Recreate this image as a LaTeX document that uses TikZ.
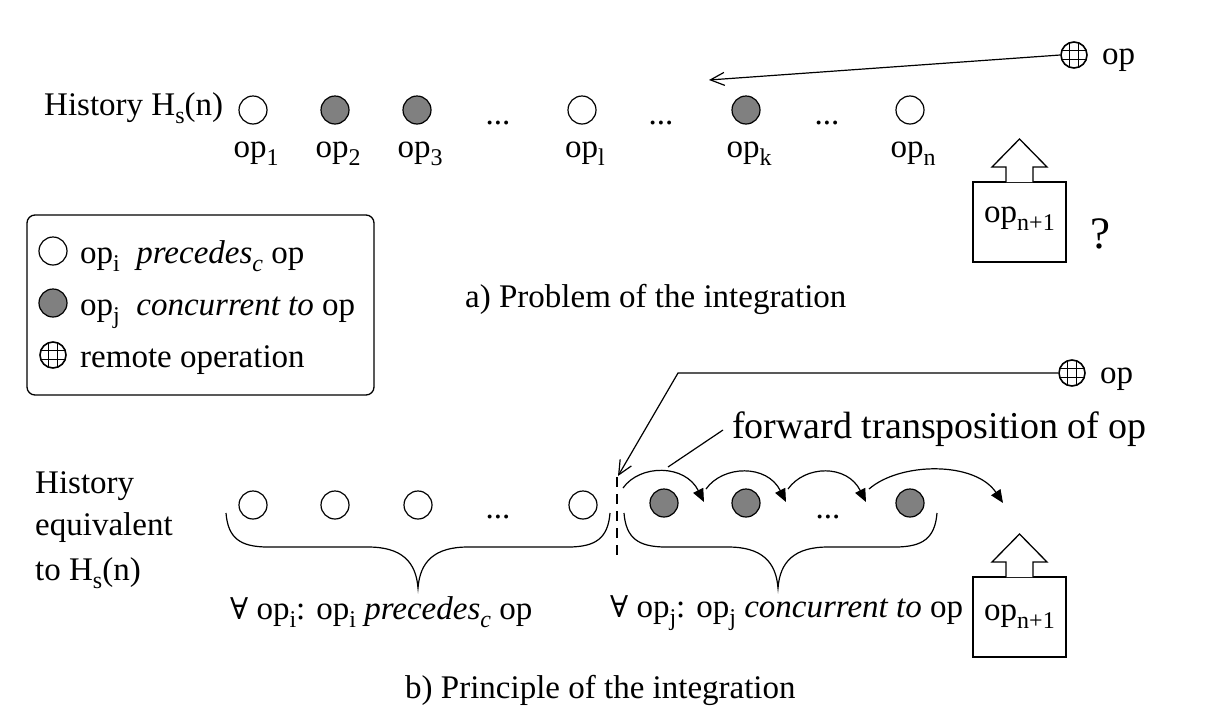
\documentclass[tikz,border=0pt]{standalone}
\usepackage{fontspec}
\setmainfont{Liberation Serif}
\newfontfamily\symf{DejaVu Serif}
\usetikzlibrary{arrows.meta}
\definecolor{opgrey}{RGB}{128,128,128}
\newcommand{\sbs}[1]{\raisebox{-8pt}{\fontsize{24}{24}\selectfont #1}}
\newcommand{\fa}{{\symf\fontsize{30}{30}\selectfont ∀}}
\begin{document}
\begin{tikzpicture}[x=1pt,y=-1pt,
  font=\fontsize{33}{40}\selectfont,
  every node/.style={inner sep=0pt},
  opw/.style={circle,draw,fill=white,minimum size=28pt,line width=1.2pt},
  opg/.style={opw,fill=opgrey},
  remote/.style={circle,draw,fill=white,minimum size=26pt,line width=1.6pt,
    path picture={\draw[line width=1.5pt]
      ([xshift=-4.5pt]path picture bounding box.north) -- ([xshift=-4.5pt]path picture bounding box.south)
      ([xshift=4.5pt]path picture bounding box.north) -- ([xshift=4.5pt]path picture bounding box.south)
      ([yshift=-4.5pt]path picture bounding box.west) -- ([yshift=-4.5pt]path picture bounding box.east)
      ([yshift=4.5pt]path picture bounding box.west) -- ([yshift=4.5pt]path picture bounding box.east);}},
  txt/.style={anchor=base west},
  ctxt/.style={anchor=base},
  thinline/.style={line width=1.2pt},
  openarr/.style={thinline,-{Straight Barb[length=14pt,width=13pt]}},
  fillarr/.style={thinline,-{Triangle[length=13pt,width=11pt]}},
  frame/.style={draw,line width=1.3pt},
  opbox/.style={frame,minimum width=93pt,minimum height=80pt},
  bigq/.style={anchor=base,font=\fontsize{45}{50}\selectfont},
  bigtxt/.style={anchor=base west,font=\fontsize{38}{44}\selectfont}
]
\useasboundingbox (0,0) rectangle (1212,718);

% ---------- a) ----------
\node[txt] (hist) at (44,115) {History H\sbs{s}(n)};
\node[opw] (t1) at (253,110) {};
\node[opg] (t2) at (335,110) {};
\node[opg] (t3) at (417,110) {};
\node[ctxt] (d1) at (498,124) {...};
\node[opw] (t4) at (582,110) {};
\node[ctxt] (d2) at (661,124) {...};
\node[opg] (t5) at (746,110) {};
\node[ctxt] (d3) at (827,124) {...};
\node[opw] (t6) at (910,110) {};
\node[ctxt] (l1) at (256,157) {op\sbs{1}};
\node[ctxt] (l2) at (338,157) {op\sbs{2}};
\node[ctxt] (l3) at (420,157) {op\sbs{3}};
\node[ctxt] (l4) at (585,157) {op\sbs{l}};
\node[ctxt] (l5) at (749,157) {op\sbs{k}};
\node[ctxt] (l6) at (913,157) {op\sbs{n}};

\node[remote] (r1) at (1074,55) {};
\node[txt] (r1t) at (1102,64) {op};
\coordinate (tipA) at (709,80);
\draw[openarr] (r1.west) -- (tipA);

\node[opbox] (box1) at (1019.5,222) {};
\node[ctxt] (box1t) at (1019.5,222) {op\sbs{n+1}};
\draw[frame,fill=white] (1006,182) -- (1006,167) -- (992,167) -- (1019.5,139) -- (1047,167) -- (1033,167) -- (1033,182);
\node[bigq] (q) at (1100,248) {?};

\node[txt] (capa) at (465,307) {a) Problem of the integration};

% ---------- legend ----------
\draw[frame,rounded corners=8pt] (27,215) rectangle (374,395);
\node[opw] (lg1) at (53,251) {};
\node[txt] (lg1t) at (80,263) {op\sbs{i}\ \ \textit{precedes}\sbs{\textit{c}} op};
\node[opg] (lg2) at (53,303) {};
\node[txt] (lg2t) at (80,315) {op\sbs{j}\ \ \textit{concurrent to} op};
\node[remote] (lg3) at (53,355) {};
\node[txt] (lg3t) at (80,367) {remote operation};

% ---------- b) ----------
\node[remote] (r2) at (1072,373) {};
\node[txt] (r2t) at (1100,383) {op};
\coordinate (bend) at (678,373);
\coordinate (tipB) at (618,476);
\draw[openarr] (r2.west) -- (bend) -- (tipB);

\node[bigtxt] (fwd) at (732,438) {forward transposition of op};
\coordinate (pA) at (723,430);
\coordinate (pB) at (668,467);
\draw[thinline] (pA) -- (pB);

\node[txt] (h1) at (35,493) {History};
\node[txt] (h2) at (35,535) {equivalent};
\node[txt] (h3) at (35,580) {to H\sbs{s}(n)};

\node[opw] (b1) at (253,505) {};
\node[opw] (b2) at (335,505) {};
\node[opw] (b3) at (418,505) {};
\node[ctxt] (bd1) at (498,518) {...};
\node[opw] (b4) at (583,505) {};

\coordinate (dA) at (617,477);
\coordinate (dB) at (617,562);
\draw[thinline,dash pattern=on 10pt off 7pt] (dA) -- (dB);

\node[opg] (g1) at (664,503) {};
\node[opg] (g2) at (746,503) {};
\node[ctxt] (bd2) at (828,518) {...};
\node[opg] (g3) at (910,503) {};

\coordinate (s1) at (623,488); \coordinate (e1) at (704,502);
\coordinate (s2) at (706,489); \coordinate (e2) at (786,502);
\coordinate (s3) at (788,489); \coordinate (e3) at (866,502);
\coordinate (s4) at (869,489); \coordinate (e4) at (1003,503);
\draw[fillarr] (s1) .. controls +(17,-24) and +(-19,-38) .. (e1);
\draw[fillarr] (s2) .. controls +(17,-24) and +(-19,-38) .. (e2);
\draw[fillarr] (s3) .. controls +(17,-24) and +(-19,-38) .. (e3);
\draw[fillarr] (s4) .. controls +(31,-27) and +(-28,-42) .. (e4);

% braces
\draw[thinline] (226,513) .. controls (228,538) and (240,547) .. (268,547) -- (368,547)
  .. controls (402,547) and (416,562) .. (418,588)
  .. controls (420,562) and (434,547) .. (468,547) -- (568,547)
  .. controls (596,547) and (608,538) .. (610,513);
\draw[thinline] (624,513) .. controls (626,538) and (638,547) .. (666,547) -- (728,547)
  .. controls (762,547) and (776,562) .. (778,588)
  .. controls (780,562) and (794,547) .. (828,547) -- (895,547)
  .. controls (923,547) and (935,538) .. (937,513);

\node[txt] (fa1) at (230,619) {\fa\ op\sbs{i}: op\sbs{i} \textit{precedes}\sbs{\textit{c}} op};
\node[txt] (fa2) at (610,617) {\fa\ op\sbs{j}: op\sbs{j} \textit{concurrent to} op};

\node[opbox] (box2) at (1019.5,617) {};
\node[ctxt] (box2t) at (1019.5,620) {op\sbs{n+1}};
\draw[frame,fill=white] (1006,577) -- (1006,562) -- (992,562) -- (1019.5,534) -- (1047,562) -- (1033,562) -- (1033,577);

\node[txt] (capb) at (405,698) {b) Principle of the integration};
\end{tikzpicture}
\end{document}
